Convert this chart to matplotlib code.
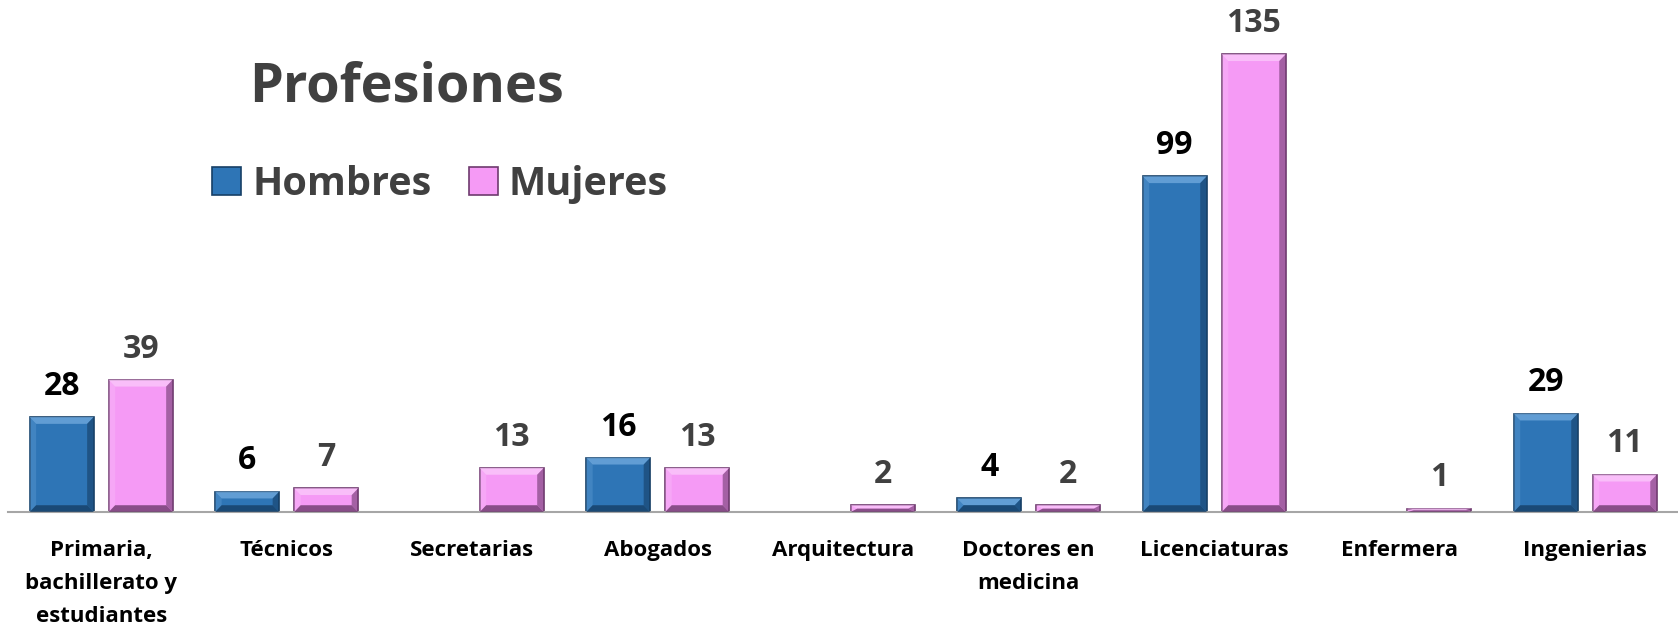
import matplotlib.pyplot as plt
from matplotlib.patches import Polygon, Rectangle
import numpy as np

plt.rcParams['font.family'] = ['Open Sans', 'DejaVu Sans']
plt.rcParams['font.weight'] = 'bold'

categories = ['Primaria,\nbachillerato y\nestudiantes', 'Técnicos', 'Secretarias',
              'Abogados', 'Arquitectura', 'Doctores en\nmedicina', 'Licenciaturas',
              'Enfermera', 'Ingenierias']
hombres = [28, 6, 0, 16, 0, 4, 99, 0, 29]
mujeres = [39, 7, 13, 13, 2, 2, 135, 1, 11]

series = [
    # name, values, face, light, dark, label color
    ('Hombres', hombres, '#2E75B6', '#6FA8DC', '#163F66', '#000000'),
    ('Mujeres', mujeres, '#F59AF5', '#FBC8FB', '#6E3A6E', '#404040'),
]


def bevel(ax, rect, light, dark):
    x0, y0 = rect.get_x(), rect.get_y()
    w, h = rect.get_width(), rect.get_height()
    bx = min(0.035, w / 2)
    by = min(2.0, h / 2)
    x1, y1 = x0 + w, y0 + h
    top = [(x0, y1), (x1, y1), (x1 - bx, y1 - by), (x0 + bx, y1 - by)]
    bot = [(x0, y0), (x1, y0), (x1 - bx, y0 + by), (x0 + bx, y0 + by)]
    left = [(x0, y0), (x0, y1), (x0 + bx, y1 - by), (x0 + bx, y0 + by)]
    right = [(x1, y0), (x1, y1), (x1 - bx, y1 - by), (x1 - bx, y0 + by)]
    ax.add_patch(Polygon(top, color=light, alpha=0.8, lw=0, zorder=3))
    ax.add_patch(Polygon(left, color=light, alpha=0.3, lw=0, zorder=3))
    ax.add_patch(Polygon(right, color=dark, alpha=0.6, lw=0, zorder=3))
    ax.add_patch(Polygon(bot, color=dark, alpha=0.8, lw=0, zorder=3))


fig = plt.figure(figsize=(16.78, 6.28), dpi=100)
ax = fig.add_axes([0.005, 0.1847, 0.995, 0.8153])

x = np.arange(len(categories))
width = 0.345
offsets = [-0.213, 0.213]

for (name, vals, face, light, dark, lcol), off in zip(series, offsets):
    bars = ax.bar(x + off, vals, width, color=face, edgecolor=dark, linewidth=1.2, zorder=2)
    for rect, v in zip(bars, vals):
        if v == 0:
            rect.set_visible(False)
            continue
        bevel(ax, rect, light, dark)
        ax.annotate(str(v), (rect.get_x() + rect.get_width() / 2, v),
                    xytext=(0, 16), textcoords='offset points', ha='center',
                    va='baseline', fontsize=23, fontweight='bold', color=lcol)

ax.set_xlim(-0.5, len(categories) - 0.5)
ax.set_ylim(0, 151)
ax.set_xticks(x)
ax.set_xticklabels(categories, fontsize=16, fontweight='bold', color='black',
                   linespacing=1.75, va='top')
ax.tick_params(axis='x', length=0, pad=20)
ax.set_yticks([])
for s in ['top', 'right', 'left']:
    ax.spines[s].set_visible(False)
ax.spines['bottom'].set_color('#A6A6A6')
ax.spines['bottom'].set_linewidth(1.5)

fig.text(0.2425, 0.838, 'Profesiones', fontsize=39, fontweight='bold',
         color='#404040', ha='center', va='baseline')

# legend
W, H = 1678, 628
leg = [(212, 253, 'Hombres'), (469, 508, 'Mujeres')]
for (mx, tx, name), s in zip(leg, series):
    fig.patches.append(Rectangle((mx / W, 1 - 195 / H), 29 / W, 28 / H,
                                 transform=fig.transFigure, facecolor=s[2],
                                 edgecolor=s[4], linewidth=1.2))
    fig.text(tx / W, 1 - 195 / H, name, fontsize=28.5, fontweight='bold',
             color='#404040', ha='left', va='baseline')

fig.savefig('out.png', dpi=100)
